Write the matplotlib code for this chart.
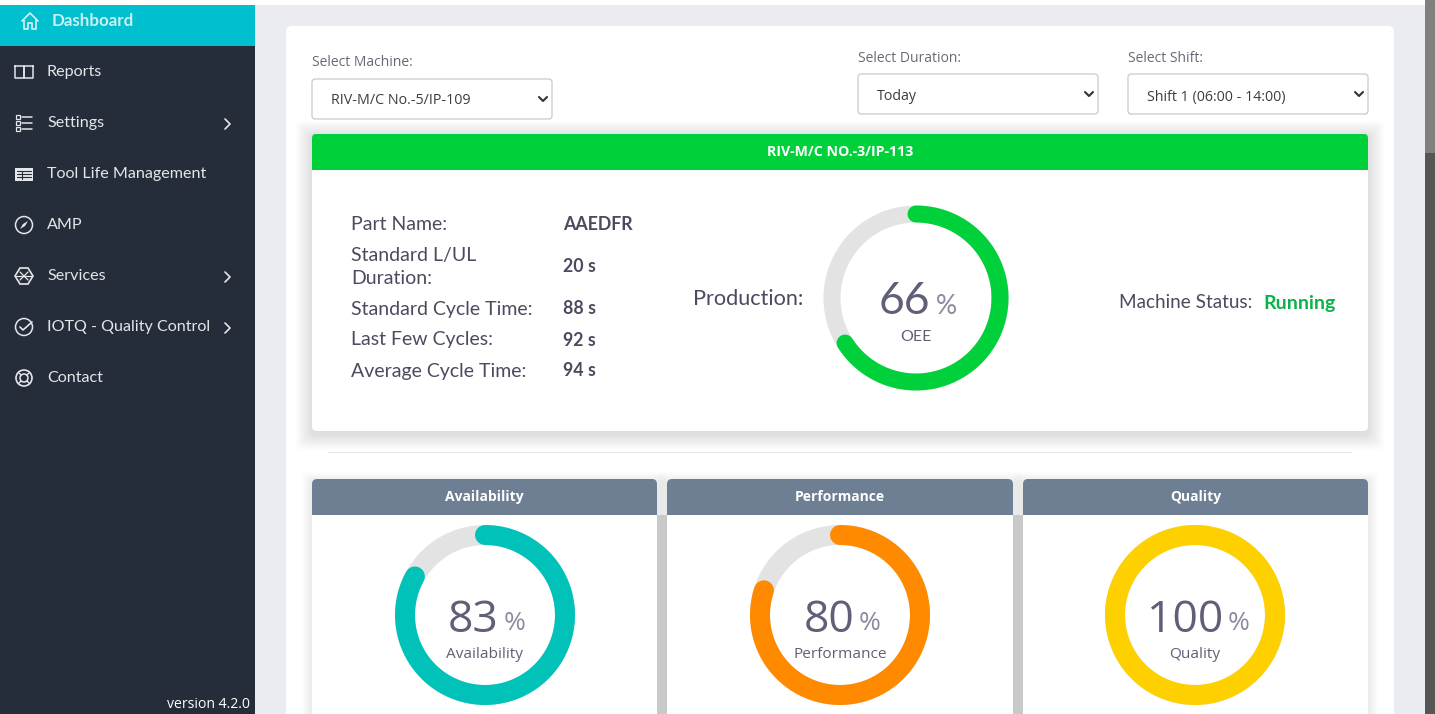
import numpy as np
import matplotlib
matplotlib.use("Agg")
import matplotlib.pyplot as plt
from matplotlib.patches import Rectangle, FancyBboxPatch, Circle, Polygon

W, H = 1435, 714

menu_items = ["Reports", "Settings", "Tool Life Management", "AMP", "Services", "IOTQ - Quality Control", "Contact"]
menu_arrows = [False, True, False, False, True, True, False]
detail_names = ["Part Name:", "Standard L/UL\nDuration:", "Standard Cycle Time:", "Last Few Cycles:", "Average Cycle Time:"]
detail_values = ["AAEDFR", "20 s", "88 s", "92 s", "94 s"]
select_labels = ["Select Machine:", "Select Duration:", "Select Shift:"]
select_values = ["RIV-M/C No.-5/IP-109", "Today", "Shift 1 (06:00 - 14:00)"]
oee = 66
card_titles = ["Availability", "Performance", "Quality"]
card_values = [83, 80, 100]
card_colors = ["#00c2b8", "#ff8a00", "#ffd000"]

SIDE = "#262d3a"
TEAL = "#00bfcf"
GREEN = "#00d13b"
SLATE = "#6e7f94"
TXT = "#5f6078"
DARK = "#4a4b5e"
SANS = "Open Sans"
ROUND = "Lato"

fig = plt.figure(figsize=(W / 100, H / 100), dpi=100)
ax = fig.add_axes([0, 0, 1, 1])
ax.set_xlim(0, W)
ax.set_ylim(H, 0)
ax.axis("off")


def rect(x0, y0, x1, y1, color, z=1):
    ax.add_patch(Rectangle((x0, y0), x1 - x0, y1 - y0, fc=color, ec="none", zorder=z))


def box(x0, y0, x1, y1, fc="white", ec="none", r=5, z=2, lw=1):
    ax.add_patch(FancyBboxPatch((x0 + r, y0 + r), x1 - x0 - 2 * r, y1 - y0 - 2 * r,
                                boxstyle="round,pad=%d" % r, fc=fc, ec=ec, lw=lw, zorder=z))


def shadow(x0, y0, x1, y1, size=16, z=1.5):
    for i in range(size, 0, -1):
        box(x0 - i, y0 - i + 3, x1 + i, y1 + i + 3, fc=(0, 0, 0, 0.007), r=6, z=z)


def label(x, y, s, size=10.8, color=TXT, font=SANS, weight="normal", ha="left", z=6):
    ax.text(x, y + 1, s, fontsize=size, color=color, family=font, fontweight=weight, ha=ha, va="center", zorder=z)


def stroke(xs, ys, color="#e4e6ea", lw=1.1, z=6):
    ax.plot(xs, ys, color=color, lw=lw, solid_capstyle="round", solid_joinstyle="round", zorder=z)


def chevron_down(x, y, color="#333333"):
    stroke([x - 4, x, x + 4], [y - 2, y + 2, y - 2], color, 1.5)


def chevron_right(x, y):
    stroke([x - 3, x + 2, x - 3], [y - 5, y, y + 5], "#e4e6ea", 1.2)


def gauge(cx, cy, radius, thick, value, color, start=90):
    # radius is the middle of the ring, in pixels
    lw = thick * 0.72
    t = np.linspace(0, 2 * np.pi, 300)
    ax.plot(cx + radius * np.cos(t), cy - radius * np.sin(t), color="#e3e3e3", lw=lw, zorder=5)
    t = np.radians(np.linspace(start, start - 360 * value / 100, 300))
    ax.plot(cx + radius * np.cos(t), cy - radius * np.sin(t), color=color, lw=lw,
            solid_capstyle="round", zorder=5)


def icon(i, x, y):
    c = "#e4e6ea"
    if i == 0:  # book
        stroke([x - 9, x - 9, x, x, x - 9], [y - 6, y + 6, y + 6, y - 6, y - 6], c)
        stroke([x + 9, x + 9, x, x, x + 9], [y - 6, y + 6, y + 6, y - 6, y - 6], c)
    elif i == 1:  # list
        for dy in (-6, 0, 6):
            ax.add_patch(Rectangle((x - 8, y + dy - 2), 3.5, 3.5, fc="none", ec=c, lw=0.9, zorder=6))
            stroke([x - 2, x + 8], [y + dy, y + dy], c)
    elif i == 2:  # table
        rect(x - 9, y - 6, x + 9, y + 7, c, 6)
        for dy in (-3, 0, 3):
            stroke([x - 7, x + 7], [y + dy, y + dy], SIDE, 0.8, 7)
        stroke([x - 2, x - 2], [y - 3, y + 5], SIDE, 0.8, 7)
    elif i == 3:  # compass
        ax.add_patch(Circle((x, y), 8.5, fc="none", ec=c, lw=1.1, zorder=6))
        ax.add_patch(Polygon([(x + 4, y - 4), (x + 1, y + 1), (x - 4, y + 4), (x - 1, y - 1)], fc=c, ec="none", zorder=6))
    elif i == 4:  # hexagon
        hx = [x - 9, x - 4, x + 4, x + 9, x + 4, x - 4]
        hy = [y, y - 8, y - 8, y, y + 8, y + 8]
        ax.add_patch(Polygon(list(zip(hx, hy)), fc="none", ec=c, lw=1.2, zorder=6))
        stroke([x - 4, x + 4], [y - 4, y + 4], c, 0.9)
        stroke([x - 4, x + 4], [y + 4, y - 4], c, 0.9)
        stroke([x - 8, x + 8], [y, y], c, 0.9)
    elif i == 5:  # check
        ax.add_patch(Circle((x, y), 8.5, fc="none", ec=c, lw=1.1, zorder=6))
        stroke([x - 4, x - 1, x + 8], [y, y + 3, y - 5], c, 1.2, 7)
    elif i == 6:  # lifebuoy
        ax.add_patch(Circle((x, y), 8, fc="none", ec=c, lw=1.2, zorder=6))
        ax.add_patch(Circle((x, y), 4, fc="none", ec=c, lw=1.1, zorder=6))
        for a in (45, 135, 225, 315):
            ca, sa = np.cos(np.radians(a)), np.sin(np.radians(a))
            stroke([x + 4 * ca, x + 8 * ca], [y + 4 * sa, y + 8 * sa], c, 1)


# page
rect(0, 0, W, H, "white", 0)
rect(255, 5, 1425, H, "#ebecf2", 0.5)
rect(1425, 0, W, 153, "#808080", 0.6)
rect(1425, 153, W, H, "#565656", 0.6)
box(286, 26, 1394, H + 20, r=6, z=1)

# sidebar
rect(0, 45, 255, H, SIDE, 1)
rect(0, 5, 255, 46, TEAL, 1)
stroke([22, 30, 38], [21, 13, 21], "#d5f4f7", 1.2)
stroke([24, 24, 28, 28, 32, 32, 36, 36], [20, 29, 29, 23, 23, 29, 29, 20], "#d5f4f7", 1.2)
label(52, 20, "Dashboard", 12.2, "#c8f1f5", ROUND, "bold")
for i, name in enumerate(menu_items):
    y = 72 + 51 * i
    icon(i, 24, y)
    label(47, y - 1, name, 11.6, "#e4e6ea", ROUND)
    if menu_arrows[i]:
        chevron_right(228, y + 1)
label(250, 703, "version 4.2.0", 10.1, "white", SANS, ha="right")

# selects
sel_x = [312, 858, 1128]
sel_y = [79, 74, 74]
sel_text_dy = [20, 22, 22]
sel_label_dy = [-18, -17, -17]
for i in range(3):
    x, y = sel_x[i], sel_y[i]
    label(x, y + sel_label_dy[i], select_labels[i], 10, "#666a75")
    box(x, y, x + 240, y + 40, ec="#bbbbbb", r=3, z=3, lw=0.7)
    label(x + 19, y + sel_text_dy[i], select_values[i], 10.3, "#3d3d3d")
    chevron_down(x + 231, y + 20)

# machine card
shadow(312, 134, 1368, 431)
box(312, 134, 1368, 431, r=5, z=2)
box(312, 134, 1368, 175, fc=GREEN, r=4, z=3)
rect(312, 170, 1368, 176, "white", 3.5)
label(840, 151, "RIV-M/C NO.-3/IP-113", 10.2, "white", SANS, "bold", "center")

row_y = [224, 266, 308, 339, 370]
for name, val, y in zip(detail_names, detail_values, row_y):
    if "\n" in name:
        a, b = name.split("\n")
        label(351, y - 11, a, 14, DARK, ROUND)
        label(351, y + 11, b, 14, DARK, ROUND)
    else:
        label(351, y, name, 14, DARK, ROUND)
    label(563, y, val, 12.8, DARK, ROUND, "bold")

label(693, 298, "Production:", 15.6, DARK, ROUND)
gauge(916, 298, 84, 17, oee, GREEN)
label(930, 301, str(oee), 32, TXT, ROUND, ha="right")
label(936, 306, "%", 19, "#8a8b9c", ROUND)
label(916, 336, "OEE", 11.5, TXT, ROUND, ha="center")
label(1119, 302, "Machine Status:", 13.6, DARK, ROUND)
label(1263, 302, "Running", 14, "#0cb14b", ROUND, "bold")

# separator
rect(328, 452, 1352, 453, "#e6e6ea", 2)

# bottom cards
card_x = [(312, 657), (667, 1013), (1023, 1368)]
num_right = [499, 854, 1223]
centers = [485, 840, 1195]
rect(657, 515, 667, H, "#c9c9c9", 1.8)
rect(1013, 515, 1023, H, "#c9c9c9", 1.8)
for i in range(3):
    x0, x1 = card_x[i]
    shadow(x0, 479, x1, H + 30, size=10)
    box(x0, 479, x1, H + 30, r=5, z=2)
    box(x0, 479, x1, 525, fc=SLATE, r=5, z=3)
    rect(x0, 515, x1, 526, "white", 3.5)
    label((x0 + x1) / 2, 496, card_titles[i], 10, "white", SANS, "bold", "center")
    gauge(centers[i], 615, 80, 20, card_values[i], card_colors[i])
    label(num_right[i], 620, str(card_values[i]), 32, TXT, SANS, ha="right")
    label(num_right[i] + 5, 623, "%", 19, "#8a8b9c", SANS)
    label(centers[i], 653, card_titles[i], 11.1, TXT, SANS, ha="center")

fig.savefig("out.png", dpi=100)
